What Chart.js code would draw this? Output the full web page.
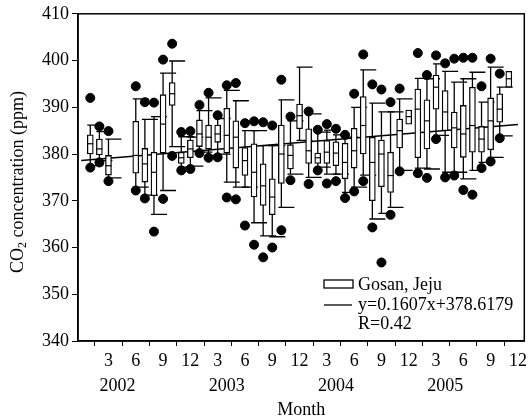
<!DOCTYPE html>
<html>
<head>
<meta charset="utf-8">
<script src="https://cdn.jsdelivr.net/npm/chart.js@4/dist/chart.umd.min.js"></script>
<style>
  html, body { margin: 0; padding: 0; background: #fff; }
  #wrap { width: 531px; height: 420px; }
</style>
</head>
<body>
<div id="wrap"><canvas id="co2-chart" width="531" height="420"></canvas></div>
<script>
// month index, 1 = Jan 2002 ... 48 = Dec 2005
const months      = [1, 2, 3, 6, 7, 8, 9, 10, 11, 12, 13, 14, 15, 16, 17, 18, 19, 20, 21, 22, 23, 24, 25, 26, 27, 28, 29, 30, 31, 32, 33, 34, 35, 36, 37, 38, 39, 40, 41, 42, 43, 44, 45, 46, 47]
const whiskerLow  = [377.5, 378.6, 374.9, 372.9, 371.2, 367.1, 372.2, 381.6, 377.2, 377.4, 380.4, 379.7, 380.0, 374.0, 372.9, 372.9, 365.3, 362.5, 362.3, 368.6, 375.7, 382.9, 375.0, 377.2, 375.7, 375.7, 371.8, 372.9, 375.5, 366.1, 367.3, 368.6, 376.5, 386.4, 377.0, 376.8, 384.0, 376.1, 376.1, 374.7, 376.5, 378.2, 379.3, 383.9, 394.3]
const q1          = [380.0, 379.8, 375.5, 375.9, 374.0, 371.1, 380.2, 390.4, 378.0, 379.2, 381.6, 381.1, 382.5, 380.2, 377.0, 375.4, 370.8, 369.0, 367.0, 373.7, 376.8, 385.4, 378.0, 378.0, 378.0, 377.5, 374.7, 377.0, 380.0, 370.0, 373.0, 371.8, 381.3, 386.4, 379.2, 381.1, 389.6, 385.0, 381.3, 379.3, 380.4, 380.4, 380.9, 386.8, 394.3]
const median      = [382.2, 381.1, 377.5, 379.7, 377.9, 376.1, 386.4, 392.9, 379.2, 381.1, 384.3, 383.6, 384.3, 384.0, 383.6, 378.6, 376.1, 373.2, 370.8, 380.0, 379.7, 388.2, 380.7, 379.2, 380.4, 380.2, 378.2, 380.7, 386.1, 378.2, 380.0, 375.4, 385.0, 388.0, 389.6, 387.1, 394.3, 389.0, 385.6, 384.3, 386.1, 383.2, 387.1, 389.6, 396.1]
const q3          = [384.1, 383.2, 379.7, 387.0, 381.2, 380.4, 392.7, 395.3, 380.4, 383.0, 387.3, 386.2, 386.2, 389.8, 387.1, 381.4, 382.2, 377.9, 374.7, 386.2, 382.0, 390.7, 385.4, 380.2, 382.9, 382.6, 382.3, 385.5, 392.3, 383.6, 383.0, 380.4, 387.5, 389.4, 393.9, 391.6, 396.9, 393.6, 389.0, 390.4, 394.3, 385.9, 392.0, 392.9, 397.7]
const whiskerHigh = [386.2, 384.8, 383.2, 391.8, 387.4, 388.0, 397.3, 399.9, 383.7, 383.6, 389.3, 392.0, 387.6, 393.6, 391.4, 385.0, 385.0, 381.8, 381.8, 391.6, 387.1, 398.6, 388.6, 384.7, 385.1, 384.1, 383.6, 390.0, 398.0, 390.9, 389.0, 389.0, 391.8, 389.4, 396.2, 396.1, 399.3, 397.7, 395.4, 396.1, 397.5, 391.1, 398.6, 394.3, 397.7]
const outlierLow  = [377.1, 378.2, 374.2, 372.2, 370.5, 363.4, 370.4, 379.6, 376.5, 376.8, 380.2, 379.2, 379.3, 370.7, 370.3, 364.7, 360.6, 357.9, 360.0, 363.7, 374.4, null, 373.6, 376.5, 373.7, 374.2, 370.6, 372.0, 374.2, 364.3, 356.8, 367.0, 376.3, null, 375.9, 374.9, 383.2, 375.0, 375.4, 372.3, 371.3, 377.0, 378.4, 383.4, null]
const outlierHigh = [392.0, 385.9, 384.9, 394.5, 391.1, 391.0, 400.2, 403.6, 384.7, 384.9, 390.5, 393.1, 388.3, 394.7, 395.2, 386.6, 387.0, 386.8, 386.1, 395.9, 388.0, null, 389.1, 385.2, 386.4, 385.4, 384.1, 392.9, 401.3, 394.9, 393.8, 391.1, 394.0, null, 401.6, 396.9, 401.1, 399.4, 400.4, 400.6, 400.6, 394.5, 400.4, 397.2, null]

const monthTicks = [3, 6, 9, 12, 15, 18, 21, 24, 27, 30, 33, 36, 39, 42, 45, 48]
const monthTickLabels = ['3', '6', '9', '12', '3', '6', '9', '12', '3', '6', '9', '12', '3', '6', '9', '12']
const years = ['2002', '2003', '2004', '2005']

// fitted trend from the legend
const slope = 0.1607
const intercept = 378.6179
const trendMonths = [0, 48]

const serif = 'Liberation Serif, Times New Roman, serif'

// whisker lines and caps, under the boxes
const whiskerPlugin = {
    id: 'whiskers',
    beforeDatasetsDraw(chart) {
        const ctx = chart.ctx
        const x = chart.scales.x
        const y = chart.scales.y
        ctx.save()
        ctx.strokeStyle = '#000'
        ctx.lineWidth = 1.3
        months.forEach((m, i) => {
            const px = x.getPixelForValue(m)
            const lo = y.getPixelForValue(whiskerLow[i])
            const hi = y.getPixelForValue(whiskerHigh[i])
            if (whiskerLow[i] === q1[i] && whiskerHigh[i] === q3[i]) return
            ctx.beginPath()
            ctx.moveTo(px, lo)
            ctx.lineTo(px, hi)
            ctx.moveTo(px - 3, lo)
            ctx.lineTo(px + 13, lo)
            ctx.moveTo(px - 3, hi)
            ctx.lineTo(px + 13, hi)
            ctx.stroke()
        })
        ctx.restore()
    },
    afterDatasetsDraw(chart) {
        const ctx = chart.ctx
        const x = chart.scales.x
        const y = chart.scales.y
        ctx.save()
        ctx.strokeStyle = '#000'
        ctx.lineWidth = 1.2
        months.forEach((m, i) => {
            const px = x.getPixelForValue(m)
            const pm = y.getPixelForValue(median[i])
            ctx.beginPath()
            ctx.moveTo(px - 3, pm)
            ctx.lineTo(px + 3, pm)
            ctx.stroke()
        })
        ctx.restore()
    }
}

// frame, axis titles, year labels and the legend box
const decorPlugin = {
    id: 'decor',
    afterDraw(chart) {
        const ctx = chart.ctx
        const area = chart.chartArea
        const x = chart.scales.x
        ctx.save()
        ctx.strokeStyle = '#000'
        ctx.lineWidth = 1.5
        ctx.strokeRect(area.left, area.top, area.right - area.left, area.bottom - area.top)

        ctx.fillStyle = '#000'
        ctx.font = '18px ' + serif
        ctx.textAlign = 'center'
        ctx.textBaseline = 'middle'
        years.forEach((yr, i) => {
            ctx.fillText(yr, x.getPixelForValue(12 * i + 4), 386)
        })
        ctx.fillText('Month', (area.left + area.right) / 2, 410)

        // y title with subscript
        ctx.save()
        ctx.translate(18, 182)
        ctx.rotate(-Math.PI / 2)
        ctx.textAlign = 'left'
        const p1 = 'CO', p3 = ' concentration (ppm)'
        ctx.font = '18px ' + serif
        const w1 = ctx.measureText(p1).width
        ctx.font = '12px ' + serif
        const w2 = ctx.measureText('2').width
        ctx.font = '18px ' + serif
        const w3 = ctx.measureText(p3).width
        let start = -(w1 + w2 + w3) / 2
        ctx.fillText(p1, start, 0)
        ctx.font = '12px ' + serif
        ctx.fillText('2', start + w1, 5)
        ctx.font = '18px ' + serif
        ctx.fillText(p3, start + w1 + w2, 0)
        ctx.restore()

        // legend
        ctx.lineWidth = 1.3
        ctx.fillStyle = '#fff'
        ctx.fillRect(324, 280, 29, 8)
        ctx.strokeRect(324, 280, 29, 8)
        ctx.beginPath()
        ctx.moveTo(324, 305)
        ctx.lineTo(352, 305)
        ctx.stroke()
        ctx.fillStyle = '#000'
        ctx.textAlign = 'left'
        ctx.font = '18px ' + serif
        ctx.fillText('Gosan, Jeju', 358, 285)
        ctx.fillText('y=' + slope + 'x+' + intercept, 358, 305)
        ctx.fillText('R=0.42', 358, 324)
        ctx.restore()
    }
}

new Chart(document.querySelector('#co2-chart').getContext('2d'), {
    type: 'bar',
    data: {
        datasets: [
            {
                type: 'line',
                label: 'trend',
                data: trendMonths.map(m => ({ x: m, y: slope * m + intercept })),
                borderColor: '#000',
                borderWidth: 1.5,
                pointRadius: 0,
                order: 3
            },
            {
                type: 'bar',
                label: 'Gosan, Jeju',
                data: months.map((m, i) => ({ x: m, y: [q1[i], q3[i]] })),
                backgroundColor: '#fff',
                borderColor: '#000',
                borderWidth: 1.3,
                borderSkipped: false,
                barThickness: 6,
                order: 2
            },
            {
                type: 'scatter',
                label: 'outliers',
                data: months.flatMap((m, i) => [
                    { x: m, y: outlierLow[i] },
                    { x: m, y: outlierHigh[i] }
                ]).filter(p => p.y !== null),
                backgroundColor: '#000',
                borderColor: '#000',
                pointRadius: 4.5,
                order: 1
            }
        ]
    },
    options: {
        animation: false,
        responsive: false,
        layout: { padding: { top: 13, right: 3, left: 0, bottom: 0 } },
        plugins: { legend: { display: false }, tooltip: { enabled: false } },
        scales: {
            x: {
                type: 'linear',
                min: -0.35,
                max: 48.7,
                offset: false,
                afterFit: scale => { scale.height = 79 },
                afterBuildTicks: scale => { scale.ticks = monthTicks.map(v => ({ value: v })) },
                grid: { drawOnChartArea: false, tickLength: 5, tickColor: '#000' },
                border: { color: '#000', width: 1.5 },
                ticks: {
                    color: '#000',
                    font: { family: serif, size: 18 },
                    padding: 4,
                    maxRotation: 0,
                    autoSkip: false,
                    callback: (value, index) => monthTickLabels[index]
                }
            },
            y: {
                min: 340,
                max: 410,
                afterFit: scale => { scale.width = 78 },
                grid: { drawOnChartArea: false, tickLength: 6, tickColor: '#000' },
                border: { color: '#000', width: 1.5 },
                ticks: {
                    stepSize: 5,
                    color: '#000',
                    font: { family: serif, size: 18 },
                    padding: 3,
                    callback: value => value % 10 === 0 ? value : ''
                }
            }
        }
    },
    plugins: [whiskerPlugin, decorPlugin]
})
</script>
</body>
</html>
